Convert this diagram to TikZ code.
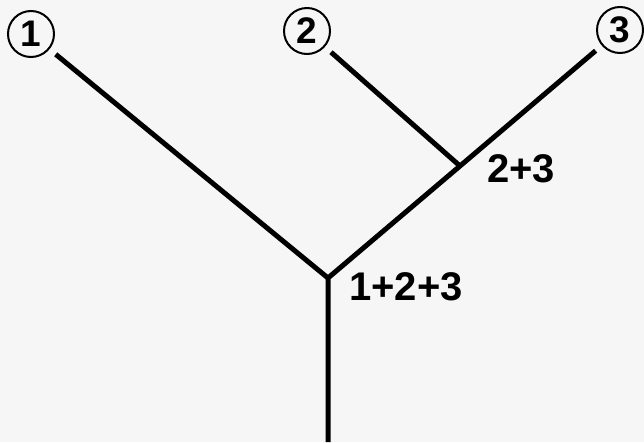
\documentclass[tikz,border=0pt]{standalone}
\usepackage{fontspec}
\setmainfont{Liberation Sans}
\begin{document}
\begin{tikzpicture}[x=1pt, y=-1pt,
	stem/.style={line width=5pt, line cap=butt, line join=miter},
	leaf/.style={circle, draw, line width=2pt, minimum size=46pt, inner sep=0pt, font=\fontsize{37}{37}\selectfont\bfseries},
	sumlabel/.style={anchor=base west, inner sep=0pt, font=\fontsize{40}{40}\selectfont\bfseries}]
	% Define custom colors
	\definecolor{paper}{RGB}{246, 246, 246}
	\fill[paper] (0,0) rectangle (644,442);
	\useasboundingbox (0,0) rectangle (644,442);
	% Leaves
	\node[leaf] (n1) at (31,34) {1};
	\node[leaf] (n2) at (307,31) {2};
	\node[leaf] (n3) at (620,30) {3};
	% Junctions
	\coordinate (j23) at (460,166);
	\coordinate (j123) at (328,278);
	\coordinate (root) at (328,442);
	\draw[stem, shorten <=8pt] (n1) -- (j123);
	\draw[stem, shorten <=8pt] (n2) -- (j23);
	\draw[stem, shorten <=8pt] (n3) -- (j23) -- (j123) -- (root);
	% Sums
	\node[sumlabel] (s23) at (487,182) {2+3};
	\node[sumlabel] (s123) at (349,300) {1+2+3};
\end{tikzpicture}
\end{document}
